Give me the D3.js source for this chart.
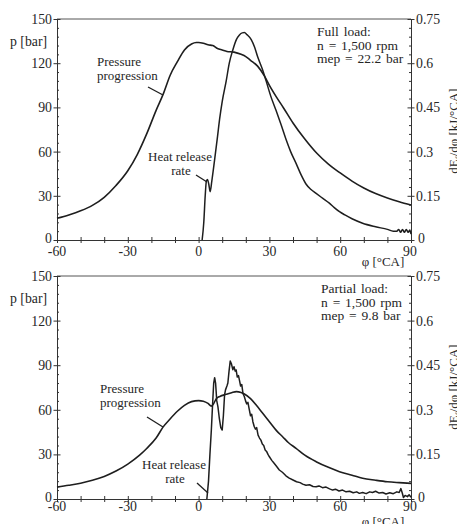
<!DOCTYPE html>
<html>
<head>
<meta charset="utf-8">
<script src="https://cdn.jsdelivr.net/npm/d3@7"></script>
<style>
  html, body { margin: 0; padding: 0; background: #fff; }
  svg { display: block; }
  text { font-family: "Liberation Serif", "DejaVu Serif", serif; fill: #262626; }
</style>
</head>
<body>
<svg id="chart" width="457" height="524"></svg>
<script>
// ---------- DATA ----------
const xTicks = [-60, -30, 0, 30, 60, 90];
const xTickLabels = ["-60", "-30", "0", "30", "60", "90"];
const leftTicks = [0, 30, 60, 90, 120, 150];
const leftTickLabels = ["0", "30", "60", "90", "120", "150"];
const rightTicks = [0, 0.15, 0.3, 0.45, 0.6, 0.75];
const rightTickLabels = ["0", "0.15", "0.3", "0.45", "0.6", "0.75"];

// Full load — pressure progression [bar]
const fullPressPhi = [-60,-55,-50,-45,-40,-35,-30,-26,-22,-18,-15,-12,-9,-6,-3,-1,0,2,4,6,8,10,12,15,18,20,22,25,28,30,33,36,40,45,50,55,60,65,70,75,80,85,90];
const fullPressVal = [14.7,17,19.8,23.5,29,37,47,58,72,88,99,112,121,129,133,134,134,133.5,132.5,132,130,129,128,127.5,126,124.5,122,118,111,105,97,89.6,79.4,68.5,59,51.5,45.5,40,35.3,31.5,28.5,26,23.8];

// Full load — heat release rate [kJ/°CA]
const fullHrrPhi = [1.5,2.2,2.8,3.3,3.8,4.3,4.9,5.6,6.75,8,8.9,10,11.7,13,14.5,16,17.3,18.5,19.4,20.5,22.3,23.7,25.1,27,28.6,30.5,32.8,35,37.1,39,41.3,43.5,45.5,47.5,49.8,52.5,55.4,57.5,59.7,62,65,69.5,75,80,82.5,84,84.8,85.6,86.4,87.2,88,88.8,89.5,90];
const fullHrrVal = [0,0.06,0.15,0.2,0.205,0.19,0.164,0.2,0.27,0.35,0.41,0.47,0.54,0.6,0.645,0.68,0.696,0.703,0.704,0.697,0.68,0.655,0.62,0.58,0.54,0.49,0.44,0.39,0.34,0.3,0.26,0.22,0.19,0.172,0.158,0.142,0.125,0.11,0.096,0.085,0.072,0.057,0.045,0.036,0.03,0.03,0.036,0.026,0.036,0.026,0.036,0.026,0.034,0.02];

// Partial load — pressure progression [bar]
const partPressPhi = [-60,-55,-50,-45,-40,-35,-30,-25,-22,-18,-15,-12,-9,-6,-3,0,2,4,5.4,6.5,7.5,9,11.7,14,16,18,19.4,22,24.4,27,30,33,35.6,38,41.3,45,49.8,55,59.7,65,69.5,75,80,85,90];
const partPressVal = [8,9.2,10.6,12.6,15.2,18.8,23.5,29.5,34,41,48.5,54,59,63,65.5,66.2,65.8,64.3,62.5,64.5,67.5,69,70.4,71.5,72.2,71.6,70.6,67.5,63.2,58,52,46,41.9,38,34.1,29.5,25.1,21.3,18.4,16,13.9,12.6,11.6,11,10.5];

// Partial load — heat release rate [kJ/°CA]
const partHrrPhi = [3.5,4.2,4.8,5.4,6,6.4,6.8,7.2,7.7,8.2,8.8,9.4,10,10.5,11,11.4,12,12.4,12.9,13.4,13.9,14.5,15,15.5,15.9,16.4,16.9,17.3,17.8,18.3,18.8,19.4,19.9,20.4,20.9,21.5,22,22.5,23,23.6,24.1,24.6,25.2,25.8,26.4,27,27.6,28.2,28.8,29.4,30,31,32,33,34.2,35.5,37,38.4,40,41.5,43,44.1,45.5,47,48.5,49.8,51,52.5,54,55.5,56.8,58,59.5,61,62.5,64,65.5,67,68.1,69.5,71,72.5,73.7,75,76.5,78,79.4,81,82.5,84,85,85.7,86.3,86.8,87.5,88.5,89.2,90];
const partHrrVal = [0,0.06,0.15,0.232,0.33,0.39,0.408,0.39,0.33,0.31,0.27,0.24,0.232,0.28,0.35,0.367,0.38,0.39,0.43,0.464,0.455,0.435,0.445,0.43,0.434,0.41,0.415,0.4,0.38,0.385,0.355,0.344,0.33,0.32,0.325,0.3,0.28,0.285,0.26,0.243,0.235,0.24,0.215,0.205,0.198,0.185,0.18,0.165,0.16,0.15,0.142,0.13,0.12,0.11,0.0975,0.09,0.078,0.07,0.064,0.058,0.055,0.05,0.046,0.048,0.042,0.041,0.044,0.038,0.04,0.034,0.03,0.033,0.027,0.03,0.024,0.026,0.021,0.024,0.019,0.022,0.018,0.024,0.022,0.026,0.02,0.022,0.017,0.021,0.018,0.024,0.022,0.035,0.02,0.005,0.012,0.008,0.014,0.006];

const fullLoadLines = ["Full load:", "n = 1,500 rpm", "mep = 22.2 bar"];
const partLoadLines = ["Partial load:", "n = 1,500 rpm", "mep = 9.8 bar"];

// ---------- DRAWING ----------
const svg = d3.select("#chart");
const ink = "#1e1e1e";
const tickFont = 13.8;
const textFont = 13;

function drawPanel(cfg) {
  const x = d3.scaleLinear().domain([-60, 90]).range([57, 411]);
  const yP = d3.scaleLinear().domain([0, 150]).range([cfg.bottom, cfg.top]);
  const yH = d3.scaleLinear().domain([0, 0.75]).range([cfg.bottom, cfg.top]);
  const g = svg.append("g");

  // top frame line
  g.append("line").attr("x1", x(-60)).attr("x2", x(90))
    .attr("y1", yP(150)).attr("y2", yP(150))
    .attr("stroke", "#555").attr("stroke-width", 1);

  // x axis: ticks every 10, labels every 30
  const xa = g.append("g").attr("transform", `translate(0,${cfg.bottom})`)
    .call(d3.axisBottom(x).tickValues(d3.range(-60, 91, 10)).tickSize(3).tickFormat(() => ""));
  xa.select(".domain").attr("stroke", "#333");
  xa.selectAll(".tick line").attr("stroke", "#333").attr("y1", -3).attr("y2", 3);
  xa.selectAll("text").remove();
  g.selectAll(".xl").data(xTicks).join("text")
    .attr("x", d => x(d) - (d === 90 ? 1 : 0)).attr("y", cfg.bottom + cfg.xLabelDy)
    .attr("text-anchor", "middle").attr("font-size", tickFont)
    .text((d, i) => xTickLabels[i]);

  // left axis
  const la = g.append("g").attr("transform", `translate(${x(-60)},0)`)
    .call(d3.axisLeft(yP).tickValues(d3.range(0, 151, 6)).tickSize(2).tickFormat(() => ""));
  la.select(".domain").attr("stroke", "#333");
  la.selectAll(".tick line").attr("stroke", "#333");
  la.selectAll(".tick").filter(d => d % 30 === 0).select("line").attr("x1", -3.5).attr("x2", 3.5);
  la.selectAll(".tick").filter(d => d % 30 !== 0).select("line").attr("x1", 0).attr("x2", 2);
  g.selectAll(".yl").data(leftTicks).join("text")
    .attr("x", 52).attr("y", d => yP(d) + (d === 0 ? 3 : 5))
    .attr("text-anchor", "end").attr("font-size", tickFont)
    .text((d, i) => leftTickLabels[i]);

  // right axis
  const ra = g.append("g").attr("transform", `translate(${x(90)},0)`)
    .call(d3.axisRight(yH).tickValues(d3.range(0, 26).map(i => i * 0.03)).tickSize(2).tickFormat(() => ""));
  ra.select(".domain").attr("stroke", "#333");
  ra.selectAll(".tick line").attr("stroke", "#333").attr("x1", -2).attr("x2", 0);
  ra.selectAll(".tick").filter((d, i) => i % 5 === 0).select("line").attr("x1", -3.5).attr("x2", 3.5);
  g.selectAll(".rl").data(rightTicks).join("text")
    .attr("x", d => d === 0 ? 418 : 416).attr("y", d => yH(d) + (d === 0 ? 3 : 5))
    .attr("text-anchor", "start").attr("font-size", tickFont)
    .text((d, i) => rightTickLabels[i]);

  // axis titles
  g.append("text").attr("x", 10).attr("y", yP(150) + 27).attr("font-size", tickFont).text("p [bar]");
  g.append("text").attr("x", 383).attr("y", cfg.phiLabelY).attr("text-anchor", "middle")
    .attr("font-size", textFont).text("φ [°CA]");
  const rt = g.append("text")
    .attr("transform", `translate(458,${cfg.rightTitleY}) rotate(-90)`)
    .attr("text-anchor", "middle").attr("font-size", textFont);
  rt.append("tspan").text("dE");
  rt.append("tspan").attr("font-size", 8.5).attr("dy", 3).text("f");
  rt.append("tspan").attr("dy", -3).text("/dφ [kJ/°CA]");

  // curves
  const pLine = d3.line().x(d => x(d[0])).y(d => yP(d[1])).curve(d3.curveMonotoneX);
  const hLine = d3.line().x(d => x(d[0])).y(d => yH(d[1])).curve(cfg.hrrCurve);
  g.append("path").datum(d3.zip(cfg.pPhi, cfg.pVal)).attr("d", pLine)
    .attr("fill", "none").attr("stroke", ink).attr("stroke-width", 1.6).attr("stroke-linejoin", "round");
  g.append("path").datum(d3.zip(cfg.hPhi, cfg.hVal)).attr("d", hLine)
    .attr("fill", "none").attr("stroke", ink).attr("stroke-width", 1.5).attr("stroke-linejoin", "round");

  // annotations
  const ann = g.append("text").attr("font-size", 13.5).attr("word-spacing", 1.5);
  cfg.loadLines.forEach((t, i) => {
    ann.append("tspan").attr("x", cfg.loadX).attr("y", cfg.loadY + i * 13.6).text(t);
  });
  g.append("text").attr("x", cfg.pressLbl[0]).attr("y", cfg.pressLbl[1]).attr("font-size", textFont).text("Pressure");
  g.append("text").attr("x", cfg.pressLbl[0]).attr("y", cfg.pressLbl[1] + 14).attr("font-size", textFont).text("progression");
  g.append("line").attr("x1", cfg.pressPtr[0]).attr("y1", cfg.pressPtr[1])
    .attr("x2", cfg.pressPtr[2]).attr("y2", cfg.pressPtr[3]).attr("stroke", ink).attr("stroke-width", 1.3);
  g.append("text").attr("x", cfg.heatLbl[0]).attr("y", cfg.heatLbl[1]).attr("text-anchor", "middle")
    .attr("font-size", textFont).text("Heat release");
  g.append("text").attr("x", cfg.heatLbl[0] + 1).attr("y", cfg.heatLbl[1] + 14).attr("text-anchor", "middle")
    .attr("font-size", textFont).text("rate");
  g.append("line").attr("x1", cfg.heatPtr[0]).attr("y1", cfg.heatPtr[1])
    .attr("x2", cfg.heatPtr[2]).attr("y2", cfg.heatPtr[3]).attr("stroke", ink).attr("stroke-width", 1.3);
}

drawPanel({
  top: 19, bottom: 240, xLabelDy: 15.5, phiLabelY: 266, rightTitleY: 131,
  pPhi: fullPressPhi, pVal: fullPressVal, hPhi: fullHrrPhi, hVal: fullHrrVal,
  hrrCurve: d3.curveMonotoneX,
  loadLines: fullLoadLines, loadX: 317, loadY: 36,
  pressLbl: [97, 66], pressPtr: [148, 87, 163, 95],
  heatLbl: [180, 161], heatPtr: [196, 175, 207, 182]
});

drawPanel({
  top: 276, bottom: 499, xLabelDy: 11.5, phiLabelY: 526, rightTitleY: 387,
  pPhi: partPressPhi, pVal: partPressVal, hPhi: partHrrPhi, hVal: partHrrVal,
  hrrCurve: d3.curveLinear,
  loadLines: partLoadLines, loadX: 321, loadY: 293,
  pressLbl: [100, 393], pressPtr: [147, 417, 163, 427],
  heatLbl: [174, 469], heatPtr: [197, 483, 208, 493]
});
</script>
</body>
</html>
